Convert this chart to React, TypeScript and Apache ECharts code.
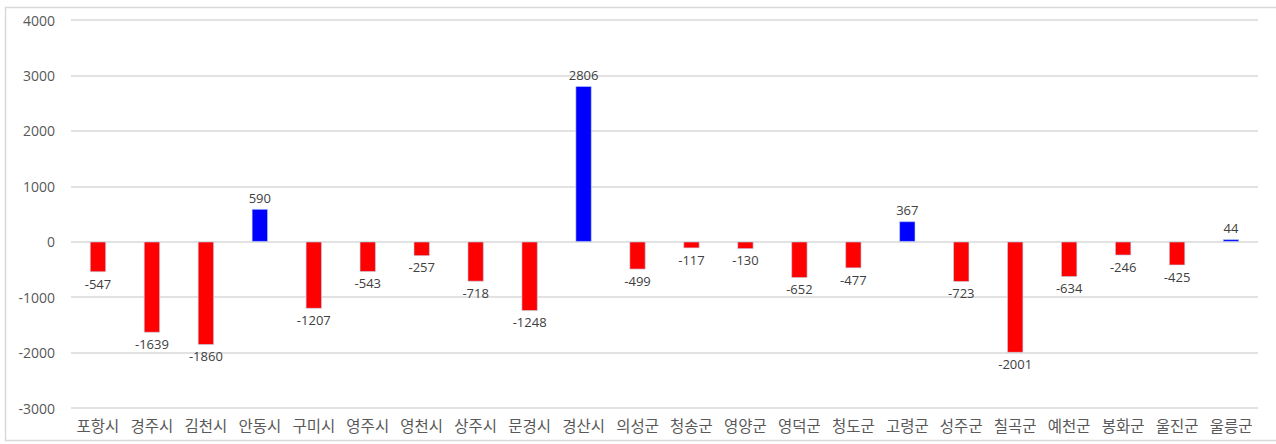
import React, { useEffect, useRef } from "react";
import * as echarts from "echarts";

const categories = ["포항시", "경주시", "김천시", "안동시", "구미시", "영주시", "영천시", "상주시", "문경시", "경산시", "의성군", "청송군", "영양군", "영덕군", "청도군", "고령군", "성주군", "칠곡군", "예천군", "봉화군", "울진군", "울릉군"];
const values = [-547, -1639, -1860, 590, -1207, -543, -257, -718, -1248, 2806, -499, -117, -130, -652, -477, 367, -723, -2001, -634, -246, -425, 44];
const yTicks = { min: -3000, max: 4000, interval: 1000 };

export default function App() {
  const ref = useRef<HTMLDivElement>(null);
  useEffect(() => {
    const chart = echarts.init(ref.current!, null, { renderer: "svg" });
    chart.setOption({
      animation: false,
      backgroundColor: "#ffffff",
      graphic: [
        {
          type: "rect",
          shape: { x: 5.5, y: 7.5, width: 1290, height: 433 },
          style: { fill: "none", stroke: "#d9d9d9", lineWidth: 1.5 },
          silent: true,
        },
      ],
      grid: { left: 71, right: 18, top: 20, bottom: 36, containLabel: false },
      xAxis: {
        type: "category",
        data: categories,
        axisLine: { show: false },
        axisTick: { show: false },
        axisLabel: {
          color: "#595959",
          fontSize: 15.5,
          fontFamily: "Noto Sans CJK KR",
          margin: 9,
          interval: 0,
        },
      },
      yAxis: {
        type: "value",
        min: yTicks.min,
        max: yTicks.max,
        interval: yTicks.interval,
        axisLine: { show: false },
        axisTick: { show: false },
        axisLabel: {
          color: "#595959",
          fontSize: 14,
          fontFamily: "Open Sans",
          margin: 16,
          formatter: (v: number) => String(v),
        },
        splitLine: { lineStyle: { color: "#d9d9d9", width: 1.5 } },
      },
      series: [
        {
          type: "bar",
          data: values.map((v) => ({
            value: v,
            itemStyle: { color: v >= 0 ? "#0000ff" : "#ff0000" },
            label: { position: v >= 0 ? "top" : "bottom" },
          })),
          barWidth: 16,
          itemStyle: { borderColor: "#bdd7ee", borderWidth: 0.6 },
          label: {
            show: true,
            color: "#404040",
            fontSize: 13,
            fontFamily: "Open Sans",
            distance: 5,
          },
        },
      ],
    });
    return () => chart.dispose();
  }, []);
  return <div ref={ref} style={{ position: "fixed", left: 0, top: 0, width: 1276, height: 444 }} />;
}
